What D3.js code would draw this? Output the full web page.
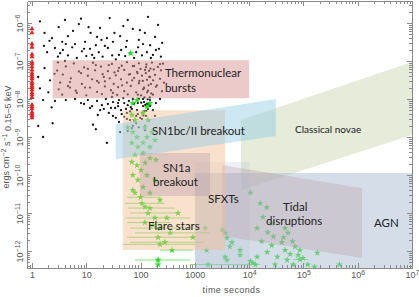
<!DOCTYPE html>
<html>
<head>
<meta charset="utf-8">
<script src="https://cdn.jsdelivr.net/npm/d3@7"></script>
<style>
body { margin: 0; background: #fff; }
svg { display: block; }
.axis path, .axis line { stroke: #8a8a8a; stroke-width: 1; shape-rendering: crispEdges; }
.axis text { fill: #555; font-family: "Liberation Sans", Arial, sans-serif; font-size: 9px; }
.region-label { font-family: Lato, "Open Sans", sans-serif; fill: #222; }
</style>
</head>
<body>
<div id="chart"></div>
<script>
const w = 419, h = 297;
const padL = 27, padR = 7, padT = 1, padB = 29;

// axis ticks
const xTickValues = [1, 10, 100, 1000, 1e4, 1e5, 1e6, 1e7];
const xTickLabels = ["1", "10", "100", "1000", "10^4", "10^5", "10^6", "10^7"];
const yTickValues = [1e-12, 1e-11, 1e-10, 1e-9, 1e-8, 1e-7, 1e-6];
const yTickLabels = ["10^-12", "10^-11", "10^-10", "10^-9", "10^-8", "10^-7", "10^-6"];

// red triangles, all at t = 1 s  [time, flux]
const redPoints = [
  [1, 7e-7], [1, 5.5e-7], [1, 2.8e-7], [1, 2.3e-7], [1, 1.5e-7], [1, 1.3e-7], [1, 9.4e-8],
  [1, 8.3e-8], [1, 7e-8], [1, 5.8e-8], [1, 4.8e-8], [1, 4.3e-8], [1, 3.8e-8], [1, 3.4e-8],
  [1, 2.8e-8], [1, 2.5e-8], [1, 2.2e-8], [1, 2e-8], [1, 1.75e-8], [1, 1.45e-8], [1, 1.3e-8],
  [1, 1.1e-8], [1, 7e-9], [1, 6.2e-9], [1, 5.5e-9], [1, 4.5e-9], [1, 4e-9], [1, 3.6e-9], [1, 3.2e-9]
];

// black dots  [time, flux]
const blackPoints = [
  [1.4, 1.1e-6], [1.7, 5.5e-7], [2.1, 3.4e-7], [3.1, 7.8e-7], [3.6, 3.2e-7], [7.3, 9.4e-7], [8, 1.3e-6],
  [11, 7.8e-7], [12, 5.5e-7], [15, 2.6e-7], [19, 3.6e-7], [24, 4e-7], [33, 5.5e-7], [42, 4.5e-7],
  [56, 3.4e-7], [72, 7e-7], [93, 3.6e-7], [120, 5.5e-7], [150, 2.6e-7], [185, 4.3e-7], [210, 8.9e-7],
  [250, 3e-7], [27, 1.35e-6], [4.6, 4.5e-7], [6.2, 2.8e-7], [9.5, 3.2e-7], [58, 1.2e-6], [137, 1.45e-6],
  [1.9, 1.7e-7], [2.65, 2.2e-7], [3.0, 1.3e-7], [3.7, 1.95e-7], [4.6, 1.4e-7], [5.5, 2.3e-7], [6.7, 1.2e-7],
  [8.3, 1.8e-7], [10, 1.35e-7], [11.7, 2.1e-7], [14, 1.2e-7], [17, 1.7e-7], [20, 1.3e-7], [25, 2.2e-7],
  [30, 1.4e-7], [35, 1.1e-7], [44, 1.95e-7], [52, 1.35e-7], [64, 1.6e-7], [76, 1.2e-7], [90, 2.3e-7],
  [106, 1.4e-7], [131, 1.7e-7], [155, 1.2e-7], [192, 1.95e-7], [237, 1.3e-7],
  [3.0, 9.2e-8], [5.9, 8.6e-8], [13.3, 9e-8], [29.7, 8.4e-8], [56, 9.3e-8], [93, 8.7e-8], [162, 9.1e-8], [259, 8.5e-8],
  [4.2, 7.2e-8], [9.1, 6.8e-8], [18.6, 7.1e-8], [40, 6.6e-8], [72, 7.3e-8], [126, 6.9e-8], [209, 7e-8],
  [2.9, 5.6e-8], [7.3, 5.3e-8], [14.5, 5.7e-8], [25, 5.4e-8], [50, 5.8e-8], [86, 5.2e-8], [143, 5.5e-8], [238, 5.7e-8],
  [3.7, 4.4e-8], [10.7, 4.1e-8], [20, 4.5e-8], [35, 4.2e-8], [61, 4.4e-8], [106, 4.1e-8], [184, 4.3e-8],
  [5.2, 3.5e-8], [12.8, 3.3e-8], [27, 3.5e-8], [43.6, 3.3e-8], [76, 3.6e-8], [131, 3.2e-8], [228, 3.4e-8],
  [3.3, 2.7e-8], [8.3, 2.5e-8], [17, 2.7e-8], [32, 2.5e-8], [56, 2.7e-8], [93, 2.6e-8], [155, 2.5e-8], [270, 2.7e-8],
  [4.6, 2.2e-8], [11.7, 2e-8], [22, 2.15e-8], [38.5, 2.05e-8], [66, 2.2e-8], [116, 2e-8], [192, 2.1e-8],
  [6.4, 1.65e-8], [15.8, 1.55e-8], [28.5, 1.7e-8], [50, 1.6e-8], [83, 1.5e-8], [137, 1.65e-8], [248, 1.6e-8],
  [3.6, 1.3e-8], [10, 1.25e-8], [19.4, 1.35e-8], [37, 1.28e-8], [58, 1.32e-8], [102, 1.24e-8], [169, 1.3e-8],
  [6.2, 1e-8], [10.7, 9.4e-9], [15.8, 8.9e-9], [23, 1e-8], [31, 8.3e-9], [40, 9.4e-9], [50, 7.8e-9],
  [61, 8.9e-9], [76, 7.4e-9], [93, 1e-8], [116, 8.3e-9], [149, 9.4e-9], [192, 7.8e-9], [12.8, 6.5e-9],
  [19.4, 6.9e-9], [28.5, 5.8e-9], [38.5, 6.5e-9], [54, 5.5e-9], [66, 6.1e-9], [86, 5.1e-9], [111, 6.5e-9],
  [137, 5.5e-9], [26, 4.3e-9], [45, 4e-9], [64, 4.7e-9], [83, 3.6e-9], [106, 4.3e-9], [56, 3e-9],
  [76, 2.7e-9], [98, 3.2e-9], [35, 3.2e-9], [18, 5.1e-9], [9.1, 7.4e-9], [4.2, 9.4e-9], [228, 1e-8], [2.65, 8.9e-9],
  [1.3, 1.95e-9], [1.6, 1e-9], [2.4, 2.3e-9], [24, 7e-10], [13.3, 2.1e-9], [15, 1.6e-9], [42, 1.35e-9],
  [69, 1.7e-9], [121, 2e-9],
  [1.7, 6.5e-8], [1.4, 1.9e-8], [2, 1.5e-8], [1.3, 3.8e-8], [2.15, 3.1e-8], [1.6, 9.4e-9], [2.3, 6e-9],
  [110, 3e-8], [125, 4.8e-8], [140, 2.3e-8], [118, 1.1e-8], [132, 1.5e-8], [145, 3.8e-8], [100, 6.2e-8],
  [128, 8.1e-8], [152, 6.3e-8], [115, 1.9e-8], [95, 3e-8], [148, 1.1e-8], [122, 7e-9], [135, 9.8e-9],
  [103, 8e-9], [127, 4.9e-9], [141, 7.2e-9], [113, 3.7e-9], [158, 1.4e-8], [170, 3.1e-8], [175, 6e-8],
  [88, 4.8e-8], [70, 3.1e-8], [45, 7.5e-8], [33, 5e-8], [22, 2.9e-8], [15, 7.8e-8], [8, 4.8e-8],
  [5, 2e-8], [2.6, 4.6e-8],
  [29.7, 1.13e-8], [38.5, 7.8e-9], [48, 1.06e-8], [58, 6.9e-9], [72, 1e-8], [89, 7.8e-9], [111, 1e-8],
  [131, 7.4e-9], [34, 5.8e-9], [43.6, 5.1e-9], [56, 4.3e-9], [69, 5.5e-9], [89, 4e-9], [116, 4.8e-9],
  [149, 6.5e-9], [169, 5.1e-9], [25, 7.4e-9], [21, 5.5e-9], [50, 3.4e-9], [64, 2.8e-9], [83, 2.3e-9],
  [106, 3e-9], [126, 3.6e-9], [93, 1.8e-9], [72, 1.95e-9], [40, 2.5e-9], [31, 3.6e-9], [16.3, 3.8e-9],
  [11.7, 5.8e-9], [8, 7.8e-9], [184, 3.6e-9], [143, 2.7e-9], [121, 1.5e-9], [58, 1.44e-9],
  [2.33, 4e-7], [4.2, 2.8e-7], [5.7, 6.2e-7], [9.1, 2.1e-7], [15.8, 4.3e-7], [22, 2.5e-7], [31, 3.2e-7],
  [40, 1.45e-7], [54, 2.35e-7], [83, 1.7e-7], [111, 2.8e-7], [169, 1.45e-7], [218, 2.1e-7], [12.8, 1.45e-7],
  [3.3, 1.6e-7], [1.66, 2.5e-7], [17.9, 7.4e-7], [48, 8.3e-7], [97, 6.5e-7], [4.05, 1.2e-6],
  [4.05, 1e-7], [10.7, 6.2e-8], [26, 7.8e-8], [76, 7.4e-8], [149, 3.8e-8], [15.8, 3e-8], [45.6, 2.3e-8],
  [111, 1.8e-8], [6.7, 1.45e-8], [31, 1.45e-8], [200, 2.3e-8], [5, 2.8e-8], [64, 4.5e-8], [21, 3.8e-8],
  [121, 5.8e-8], [9.5, 2e-8], [38.5, 5.5e-8], [89, 1.3e-8], [228, 8.3e-8], [3.1, 1.8e-8]
];

// green stars  [time, flux]
const greenPoints = [
  [66, 1.6e-7], [72, 7.8e-9], [86, 9.4e-9], [69, 3.8e-9], [79, 2.8e-9], [58, 1.8e-9], [72, 1.35e-9],
  [86, 1e-9], [69, 7e-10], [89, 5.5e-10], [131, 6.2e-9], [149, 7.8e-9], [111, 4.3e-9], [137, 2.8e-9],
  [121, 1.8e-9], [162, 1.35e-9], [131, 1e-9], [184, 8.3e-10], [111, 7e-10], [149, 5.5e-10],
  [79, 3.4e-10], [69, 2.2e-10], [86, 1.8e-10], [72, 1e-10], [89, 7.4e-11], [72, 4e-11], [79, 3.4e-11],
  [111, 3.8e-10], [149, 2.8e-10], [121, 2.1e-10], [192, 2.5e-10], [102, 1.35e-10], [131, 1e-10],
  [184, 7.4e-11], [111, 4.8e-11], [149, 3.4e-11], [228, 2.2e-11], [121, 1.45e-11], [490, 1e-11],
  [305, 7.4e-12], [169, 4.8e-12], [1560, 4e-12], [3200, 3.6e-12], [3600, 3e-12], [3900, 2.2e-12],
  [4830, 1.7e-12], [4400, 1.3e-12], [6800, 1.06e-12], [3600, 7e-13], [3900, 5.8e-13], [11700, 4.8e-13],
  [13000, 4.4e-13], [210, 4.4e-13], [1650, 1.06e-12], [920, 2.3e-12], [10500, 3.4e-11], [16000, 1.8e-11],
  [21000, 1.4e-11], [18000, 7.8e-12], [26000, 5.4e-12], [14000, 4e-12], [22000, 3.1e-12], [28000, 2.4e-12],
  [17000, 1.8e-12], [26000, 1.4e-12], [21500, 9.4e-13], [33000, 7e-13], [14000, 7e-13], [6800, 7.8e-13],
  [10500, 5.4e-13], [30000, 4.4e-13], [46000, 4e-12], [52000, 3e-12], [43000, 2.3e-12], [63000, 1.8e-12],
  [40000, 1.7e-12], [70000, 1.3e-12], [46000, 1.06e-12], [57000, 8.3e-13], [80000, 7.8e-13],
  [98000, 6.5e-13], [50000, 5.8e-13], [65000, 4.4e-13], [120000, 4.4e-13], [180000, 8.9e-13],
  [460000, 4.4e-13], [160000, 3.8e-13], [86000, 1.06e-12]
];

// green points with time error bars  [time, flux, tLow, tHigh]
const greenErrPoints = [
  [100, 2.6e-11, 56, 228], [106, 1.8e-11, 52, 281], [149, 1.35e-11, 58, 430], [137, 1e-11, 64, 490],
  [184, 7.4e-12, 52, 812], [120, 5.6e-12, 56, 350], [228, 4e-12, 64, 1240], [350, 3e-12, 79, 1900],
  [210, 2.3e-12, 56, 1000], [280, 1.7e-12, 64, 1530], [228, 1.5e-12, 47, 1000], [380, 1.06e-12, 228, 920],
  [210, 5.8e-13, 79, 810], [1750, 4.4e-13, 810, 15800], [86000, 6e-13, 65000, 120000]
];

// source-class regions  [time, flux] corners
const classicalNovae = [[7060, 2.8e-9], [1e7, 9.4e-8], [1e7, 1.13e-9], [7060, 4e-11]];
const agn = [[1000, 1.13e-10], [1e7, 1.13e-10], [1e7, 3.57e-13], [1000, 3.57e-13]];
const sfxts = [[1000, 2.2e-10], [10300, 2.2e-10], [10300, 3.57e-13], [1000, 3.57e-13]];
const tidalDisruptions = [[3160, 1.83e-10], [1.2e6, 4.5e-11], [1.2e6, 6.5e-13], [3160, 2.5e-12]];
const flareStars = [[47, 5.1e-9], [3600, 5.1e-9], [3600, 1.06e-12], [47, 1.06e-12]];
const sn1bcBreakout = [[35, 2.2e-9], [31000, 1e-8], [31000, 1.06e-9], [35, 2.6e-10]];
const sn1aBreakout = [[97, 3.8e-10], [1900, 3.8e-10], [1900, 2.8e-11], [97, 2.8e-11]];
const thermonuclearBursts = [[2.4, 1.05e-7], [1e4, 1.05e-7], [1e4, 1.05e-8], [2.4, 1.05e-8]];

// labels  [text, time, flux]
const regionLabels = [
  ["Thermonuclear", 281, 4.8e-8], ["bursts", 281, 1.95e-8], ["SN1bc/II breakout", 162, 1.44e-9],
  ["SN1a", 260, 1.53e-10], ["breakout", 170, 6.5e-11], ["SFXTs", 1750, 2.35e-11],
  ["Flare stars", 137, 4.5e-12], ["Tidal", 42000, 1.44e-11], ["disruptions", 20500, 6.1e-12],
  ["AGN", 2e6, 5.4e-12]
];
const smallLabels = [["Classical novae", 70000, 1.6e-9]];

const svg = d3.select("#chart").append("svg")
  .attr("width", w)
  .attr("height", h);

const x = d3.scaleLog().domain([0.809, 1e7]).range([padL, w - padR]);
const y = d3.scaleLog().domain([3.57e-13, 3.8e-6]).range([h - padB, padT]);

svg.append("clipPath").attr("id", "plot-clip")
  .append("rect")
  .attr("x", padL).attr("y", padT)
  .attr("width", w - padR - padL).attr("height", h - padB - padT);

const plot = svg.append("g").attr("clip-path", "url(#plot-clip)");

// error bars
plot.append("g").selectAll("line")
  .data(greenErrPoints)
  .enter().append("line")
  .attr("x1", d => x(d[2]))
  .attr("x2", d => x(d[3]))
  .attr("y1", d => y(d[1]))
  .attr("y2", d => y(d[1]))
  .attr("stroke", "#6fe06f")
  .attr("stroke-width", 0.9);

plot.append("g").selectAll("circle")
  .data(blackPoints)
  .enter().append("circle")
  .attr("cx", d => x(d[0]))
  .attr("cy", d => y(d[1]))
  .attr("r", 1.15)
  .attr("fill", "#111");

plot.append("g").selectAll("path")
  .data(redPoints)
  .enter().append("path")
  .attr("d", d3.symbol().type(d3.symbolTriangle).size(11))
  .attr("transform", d => "translate(" + x(d[0]) + "," + y(d[1]) + ")")
  .attr("fill", "#e82020");

const star = d3.symbol().type(d3.symbolStar).size(15);
plot.append("g").selectAll("path")
  .data(greenPoints.concat(greenErrPoints))
  .enter().append("path")
  .attr("d", star)
  .attr("transform", d => "translate(" + x(d[0]) + "," + y(d[1]) + ")")
  .attr("fill", "#1fe01f");

// translucent regions on top of the data
const line = d3.line().x(d => x(d[0])).y(d => y(d[1]));
const regions = [
  [classicalNovae, "#cdd7b5", 0.5],
  [agn, "#abbdd1", 0.5],
  [sfxts, "#abbdd1", 0.2],
  [tidalDisruptions, "#b89aa6", 0.33],
  [flareStars, "#f5bd91", 0.45],
  [sn1bcBreakout, "#91c9e5", 0.45],
  [sn1aBreakout, "#a892a4", 0.32],
  [thermonuclearBursts, "#d99595", 0.5]
];
plot.append("g").selectAll("path")
  .data(regions)
  .enter().append("path")
  .attr("d", d => line(d[0]) + "Z")
  .attr("fill", d => d[1])
  .attr("fill-opacity", d => d[2]);

svg.append("g").selectAll("text")
  .data(regionLabels)
  .enter().append("text")
  .attr("class", "region-label")
  .attr("x", d => x(d[1]))
  .attr("y", d => y(d[2]))
  .attr("dy", "0.35em")
  .attr("font-size", "11.5px")
  .text(d => d[0]);

svg.append("g").selectAll("text")
  .data(smallLabels)
  .enter().append("text")
  .attr("class", "region-label")
  .attr("x", d => x(d[1]))
  .attr("y", d => y(d[2]))
  .attr("dy", "0.35em")
  .attr("font-size", "10px")
  .text(d => d[0]);

// axes, ticks pointing inwards
function supLabel(sel, label) {
  const parts = label.split("^");
  sel.text(parts[0]);
  if (parts[1]) {
    sel.append("tspan")
      .attr("dy", "-0.45em")
      .attr("font-size", "7px")
      .text(parts[1].replace("-", "\u2212"));
  }
}

const xMinor = x.ticks().filter(d => xTickValues.indexOf(d) < 0);
const yMinor = y.ticks().filter(d => !yTickValues.some(v => Math.abs(v - d) / v < 1e-6));

const bottom = h - padB, right = w - padR;

const gx = svg.append("g").attr("class", "axis")
  .attr("transform", "translate(0," + bottom + ")")
  .call(d3.axisBottom(x).tickValues(xTickValues).tickSizeInner(-5).tickSizeOuter(0).tickPadding(4).tickFormat(""));
gx.selectAll(".tick text").each(function (d, i) { supLabel(d3.select(this), xTickLabels[i]); });
svg.append("g").attr("class", "axis")
  .attr("transform", "translate(0," + bottom + ")")
  .call(d3.axisBottom(x).tickValues(xMinor).tickSizeInner(-3).tickSizeOuter(0).tickFormat(""));

const gy = svg.append("g").attr("class", "axis")
  .attr("transform", "translate(" + padL + ",0)")
  .call(d3.axisLeft(y).tickValues(yTickValues).tickSizeInner(-5).tickSizeOuter(0).tickFormat(""));
gy.selectAll(".tick text").each(function (d, i) {
  const t = d3.select(this)
    .attr("x", 0)
    .attr("dy", "0.35em")
    .attr("text-anchor", "middle")
    .attr("transform", "translate(-7,0) rotate(-90)");
  supLabel(t, yTickLabels[i]);
});
svg.append("g").attr("class", "axis")
  .attr("transform", "translate(" + padL + ",0)")
  .call(d3.axisLeft(y).tickValues(yMinor).tickSizeInner(-3).tickSizeOuter(0).tickFormat(""));

svg.append("g").attr("class", "axis")
  .attr("transform", "translate(0," + padT + ")")
  .call(d3.axisTop(x).tickValues(xTickValues).tickSizeInner(-5).tickSizeOuter(0).tickFormat(""));
svg.append("g").attr("class", "axis")
  .attr("transform", "translate(0," + padT + ")")
  .call(d3.axisTop(x).tickValues(xMinor).tickSizeInner(-3).tickSizeOuter(0).tickFormat(""));
svg.append("g").attr("class", "axis")
  .attr("transform", "translate(" + right + ",0)")
  .call(d3.axisRight(y).tickValues(yTickValues).tickSizeInner(-5).tickSizeOuter(0).tickFormat(""));
svg.append("g").attr("class", "axis")
  .attr("transform", "translate(" + right + ",0)")
  .call(d3.axisRight(y).tickValues(yMinor).tickSizeInner(-3).tickSizeOuter(0).tickFormat(""));

// axis titles
svg.append("text")
  .attr("x", (padL + right) / 2 + 12)
  .attr("y", h - 4)
  .attr("text-anchor", "middle")
  .attr("fill", "#555")
  .attr("font-family", "Liberation Sans, Arial, sans-serif")
  .attr("font-size", "9px")
  .attr("letter-spacing", "0.4px")
  .text("time  seconds");

const yTitle = svg.append("text")
  .attr("transform", "translate(9,137) rotate(-90)")
  .attr("text-anchor", "middle")
  .attr("fill", "#555")
  .attr("font-family", "Liberation Sans, Arial, sans-serif")
  .attr("font-size", "9px");
yTitle.append("tspan").text("ergs cm");
yTitle.append("tspan").attr("dy", "-0.45em").attr("font-size", "7px").text("\u22122");
yTitle.append("tspan").attr("dy", "0.45em").text(" s");
yTitle.append("tspan").attr("dy", "-0.45em").attr("font-size", "7px").text("\u22121");
yTitle.append("tspan").attr("dy", "0.45em").text(" 0.15\u20135 keV");
</script>
</body>
</html>
